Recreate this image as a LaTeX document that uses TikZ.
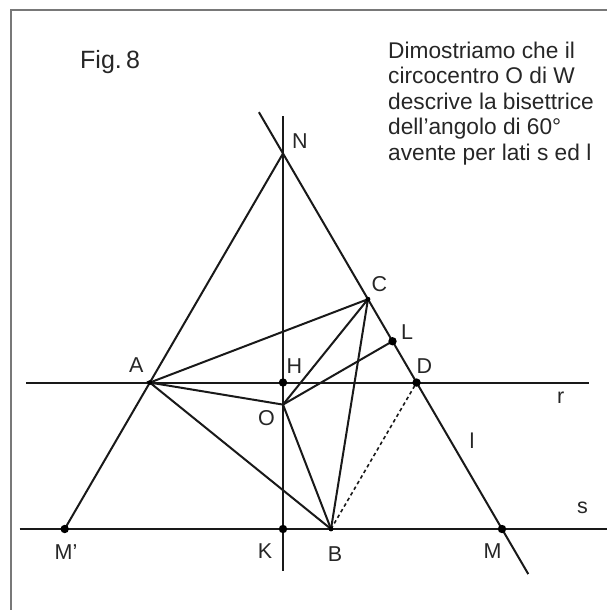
\documentclass[tikz,border=0pt]{standalone}
\usepackage{fontspec}
\setmainfont{Liberation Sans}
\usetikzlibrary{calc}
\begin{document}
\begin{tikzpicture}[x=1pt,y=-1pt,
  geo/.style={line width=2pt,black!90},
  frameline/.style={line width=1.6pt},
  bigdot/.style={fill=black,radius=4.2pt},
  smalldot/.style={fill=black,radius=2.4pt},
  lbl/.style={font=\fontsize{21.5}{24}\selectfont,inner sep=0pt,anchor=center,text=black!85}]
\useasboundingbox (0,0) rectangle (607,610);
\draw[frameline,color={rgb,255:red,120;green,120;blue,120}] (11,610) -- (11,10) -- (607,10);
% base points
\coordinate (N) at (283,153.5);
\coordinate (K) at (283,529);
\coordinate (Mp) at (64.7,529);
\coordinate (M) at (502,529);
\coordinate (A) at ($(N)!0.61!(Mp)$);
\coordinate (D) at ($(N)!0.61!(M)$);
\coordinate (C) at ($(N)!0.388!(M)$);
\coordinate (L) at ($(N)!0.5!(M)$);
\coordinate (H) at (283,382.5);
\coordinate (O) at (283,404.6);
\coordinate (B) at (331,529);
\coordinate (ltop) at ($(N)!-0.11!(M)$);
\coordinate (lbot) at ($(N)!1.12!(M)$);
\coordinate (vtop) at (283,116);
\coordinate (vbot) at (283,571);
\coordinate (rl) at (26,382.5);
\coordinate (rr) at (588.5,382.5);
\coordinate (sl) at (19.5,529);
\coordinate (sr) at (607,529);
% lines
\draw[geo] (rl) -- (rr);
\draw[geo] (sl) -- (sr);
\draw[geo] (vtop) -- (vbot);
\draw[geo] (ltop) -- (lbot);
\draw[geo] (Mp) -- (N);
\draw[geo,line join=miter] (A) -- (C) -- (B) -- (A) -- (O) -- (C);
\draw[geo] (O) -- (L);
\draw[geo] (O) -- (B);
\draw[geo,line width=1.6pt,dash pattern=on 3.5pt off 3pt] (B) -- (D);
% dots
\foreach \p in {H,D,L,K,Mp,M} \fill[bigdot] (\p) circle;
\foreach \p in {C,B,A} \fill[smalldot] (\p) circle;
% labels
\node[lbl] (tN) at (300,141) {N};
\node[lbl] (tC) at (379.5,284.5) {C};
\node[lbl] (tL) at (407,332) {L};
\node[lbl] (tA) at (136.3,365) {A};
\node[lbl] (tH) at (294.5,366) {H};
\node[lbl] (tD) at (424.5,366) {D};
\node[lbl] (tr) at (560.6,398) {r};
\node[lbl] (tO) at (266.4,418) {O};
\node[lbl] (tl) at (472,441) {l};
\node[lbl] (ts) at (582.6,508) {s};
\node[lbl] (tMp) at (66,552) {M’};
\node[lbl] (tK) at (265,551) {K};
\node[lbl] (tB) at (335,553.6) {B};
\node[lbl] (tM) at (492.5,551) {M};
% texts
\node[anchor=base west,inner sep=0pt,text=black!85,font=\fontsize{25}{28}\selectfont] (fig) at (80,68.5) {Fig.\,8};
\node[anchor=north west,inner sep=0pt,align=left,text=black!85,font=\fontsize{22.7}{25.6}\selectfont] (txt) at (388,41.5)
 {Dimostriamo che il\\circocentro O di W\\descrive la bisettrice\\dell’angolo di 60°\\avente per lati s ed l};
\end{tikzpicture}
\end{document}
